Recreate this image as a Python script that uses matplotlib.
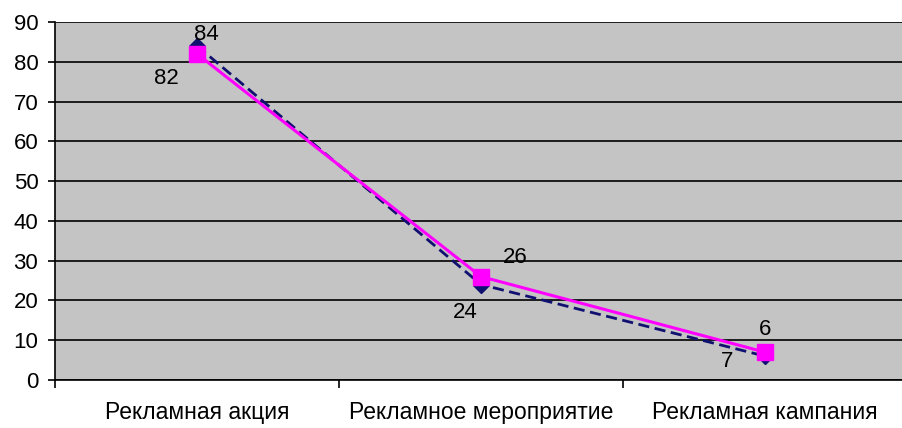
import matplotlib.pyplot as plt
import numpy as np

plt.rcParams['font.family'] = ['Liberation Sans', 'DejaVu Sans']

categories = ["Рекламная акция", "Рекламное мероприятие", "Рекламная кампания"]
blue_vals = [84, 24, 6]
pink_vals = [82, 26, 7]
top_labels = ["84", "26", "6"]
bot_labels = ["82", "24", "7"]

fig = plt.figure(figsize=(9.03, 4.28), dpi=100)
ax = fig.add_axes([55 / 903, 48 / 428, 852 / 903, 358 / 428])
ax.set_facecolor('#c4c4c4')

x = np.arange(len(categories))
ax.plot(x, blue_vals, color='#101070', linestyle=(0, (4, 2)), linewidth=2,
        marker='D', markersize=8, zorder=3)
ax.plot(x, pink_vals, color='#ff00ff', linewidth=2.2,
        marker='s', markersize=12, zorder=4)

# data labels, offsets (points) from the pink markers, as in the original
offsets_top = [(7, 14), (25, 14), (0, 16)]
offsets_bot = [(-22, -18), (-11, -26), (-27, -7)]
for i in range(3):
    ax.annotate(top_labels[i], (x[i], pink_vals[i]), xytext=offsets_top[i],
                textcoords='offset points', ha='center', va='center', fontsize=16, zorder=5)
    ax.annotate(bot_labels[i], (x[i], pink_vals[i]), xytext=offsets_bot[i],
                textcoords='offset points', ha='center', va='center', fontsize=16, zorder=5)

ax.set_xlim(-0.5, 2.5)
ax.set_ylim(0, 90)
ax.set_yticks(range(0, 91, 10))
ax.yaxis.grid(True, color='black', linewidth=1.2)
ax.set_axisbelow(True)
ax.tick_params(axis='y', labelsize=16, direction='out', length=5, width=1.2, pad=7)

ax.set_xticks(x)
ax.set_xticklabels(categories, fontsize=16.5)
ax.tick_params(axis='x', length=0, pad=15)
ax.set_xticks([-0.5, 0.5, 1.5, 2.5], minor=True)
ax.tick_params(axis='x', which='minor', direction='out', length=6, width=1.2)

for s in ['top', 'right']:
    ax.spines[s].set_visible(False)
ax.spines['left'].set_linewidth(1.2)
ax.spines['bottom'].set_linewidth(1.2)

fig.savefig('out.png', dpi=100)
